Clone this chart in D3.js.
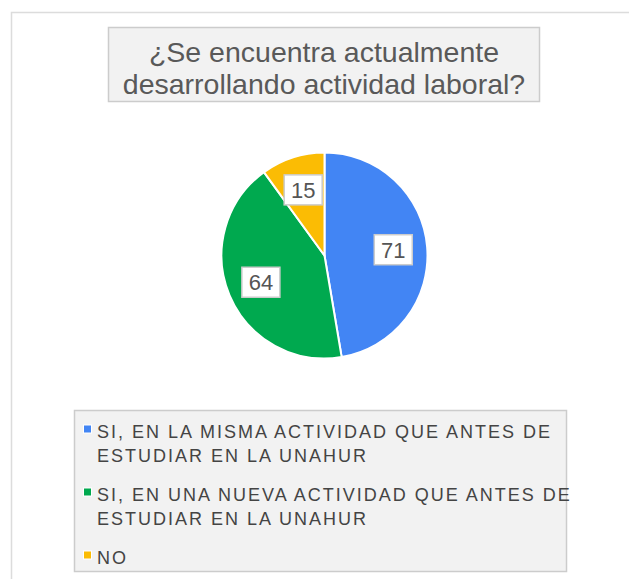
<!DOCTYPE html>
<html><head><meta charset="utf-8">
<script src="https://cdn.jsdelivr.net/npm/d3@7"></script>
<style>
html,body{margin:0;padding:0;background:#fff;}
svg{display:block;font-family:"Liberation Sans",Arial,sans-serif;}
</style></head>
<body>
<svg id="chart" width="629" height="579"></svg>
<script>
const titleLines = ["¿Se encuentra actualmente", "desarrollando actividad laboral?"];
const categories = [
  "SI, EN LA MISMA ACTIVIDAD QUE ANTES DE ESTUDIAR EN LA UNAHUR",
  "SI, EN UNA NUEVA ACTIVIDAD QUE ANTES DE ESTUDIAR EN LA UNAHUR",
  "NO"
];
const values = [71, 64, 15];
const colors = ["#4285f4", "#00a94f", "#fbbc04"];

const svg = d3.select("#chart");
const W = 629, H = 579;

// outer frame
svg.append("rect").attr("x", 11.5).attr("y", 12.5).attr("width", W).attr("height", H)
  .attr("fill", "#fff").attr("stroke", "#dcdcdc").attr("stroke-width", 1.5);

// title
svg.append("rect").attr("x", 108.5).attr("y", 27.5).attr("width", 431).attr("height", 74)
  .attr("fill", "#f2f2f2").attr("stroke", "#cccccc").attr("stroke-width", 1.5);
const title = svg.append("text").attr("text-anchor", "middle").attr("fill", "#595959")
  .attr("font-size", 28.5);
titleLines.forEach((l, i) => title.append("tspan").attr("x", 324).attr("y", 62 + i * 32).text(l));

// pie
const cx = 324.5, cy = 255.5, r = 103;
const pie = d3.pie().sort(null).value(d => d)(values);
const arc = d3.arc().innerRadius(0).outerRadius(r);
const labelArc = d3.arc().innerRadius(r * 0.67).outerRadius(r * 0.67);
const g = svg.append("g").attr("transform", `translate(${cx},${cy})`);
g.selectAll("path").data(pie).join("path")
  .attr("d", arc).attr("fill", (d, i) => colors[i])
  .attr("stroke", "#fff").attr("stroke-width", 2);

const lab = g.selectAll("g.lab").data(pie).join("g").attr("class", "lab")
  .attr("transform", d => `translate(${labelArc.centroid(d)})`);
lab.append("rect").attr("x", -19).attr("y", -15).attr("width", 38).attr("height", 30)
  .attr("fill", "#fff").attr("stroke", "#cccccc").attr("stroke-width", 1.5);
lab.append("text").attr("text-anchor", "middle").attr("dy", "0.37em")
  .attr("font-size", 22).attr("fill", "#555").text(d => d.data);

// legend
const lg = svg.append("g");
lg.append("rect").attr("x", 74.5).attr("y", 410.5).attr("width", 492).attr("height", 161)
  .attr("fill", "#f2f2f2").attr("stroke", "#cccccc").attr("stroke-width", 1.5);

const maxW = 475, ls = 2.0;
function wrap(text, size) {
  const m = svg.append("text").attr("font-size", size).attr("letter-spacing", ls);
  const words = text.split(" "); const lines = []; let cur = "";
  words.forEach(w => {
    const t = cur ? cur + " " + w : w;
    m.text(t);
    if (m.node().getComputedTextLength() > maxW && cur) { lines.push(cur); cur = w; } else cur = t;
  });
  lines.push(cur); m.remove(); return lines;
}
let y = 437.5;
categories.forEach((c, i) => {
  const lines = wrap(c, 18);
  lg.append("rect").attr("x", 83).attr("y", y - 13).attr("width", 9).attr("height", 9).attr("fill", "#fff");
  lg.append("rect").attr("x", 84).attr("y", y - 12).attr("width", 7).attr("height", 7).attr("fill", colors[i]);
  const t = lg.append("text").attr("font-size", 18).attr("fill", "#444").attr("letter-spacing", ls);
  lines.forEach((l, j) => t.append("tspan").attr("x", 97).attr("y", y + j * 24.5).text(l));
  y += lines.length * 24.5 + 14;
});
</script>
</body></html>
